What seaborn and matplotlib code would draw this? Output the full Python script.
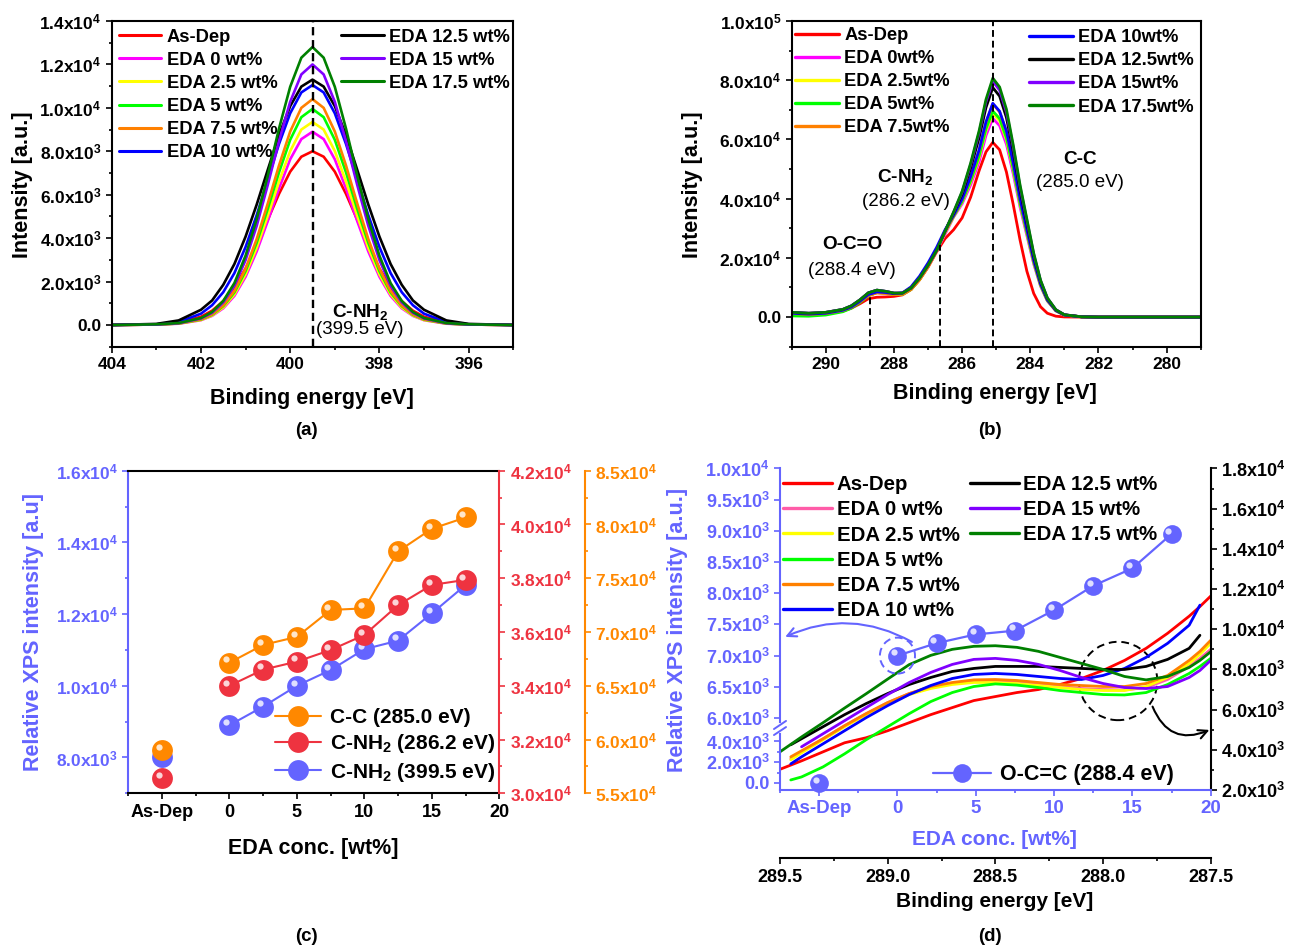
import matplotlib
matplotlib.use("Agg")
import matplotlib.pyplot as plt
import matplotlib.ticker as mticker
from matplotlib.lines import Line2D
from matplotlib.patches import Ellipse
from matplotlib.transforms import offset_copy
import numpy as np
import pandas as pd
import seaborn as sns

# ---------------- data ----------------
samples = ["As-Dep", "EDA 0 wt%", "EDA 2.5 wt%", "EDA 5 wt%", "EDA 7.5 wt%",
           "EDA 10 wt%", "EDA 12.5 wt%", "EDA 15 wt%", "EDA 17.5 wt%"]
samples_b = ["As-Dep", "EDA 0wt%", "EDA 2.5wt%", "EDA 5wt%", "EDA 7.5wt%",
             "EDA 10wt%", "EDA 12.5wt%", "EDA 15wt%", "EDA 17.5wt%"]

# (a) N 1s spectra
be_n1s = [404, 403, 402.5, 402, 401.75, 401.5, 401.25, 401, 400.75, 400.5, 400.25, 400, 399.75,
          399.5, 399.25, 399, 398.75, 398.5, 398.25, 398, 397.75, 397.5, 397.25, 397, 396.5,
          396, 395]
n1s_asdep = [0, 20, 100, 380, 660, 1100, 1730, 2600, 3660, 4860, 6040, 7060, 7750, 8000,
             7750, 7060, 6040, 4860, 3660, 2600, 1730, 1100, 660, 380, 100, 20, 0]
n1s_0 = [0, 20, 60, 220, 420, 770, 1340, 2220, 3390, 4800, 6290, 7630, 8560, 8900,
         8560, 7630, 6290, 4800, 3390, 2220, 1340, 770, 420, 220, 60, 20, 0]
n1s_25 = [0, 20, 70, 230, 440, 810, 1410, 2330, 3560, 5040, 6610, 8010, 9000, 9350,
          9000, 8010, 6610, 5040, 3560, 2330, 1410, 810, 440, 230, 70, 20, 0]
n1s_5 = [0, 20, 70, 250, 470, 870, 1500, 2480, 3790, 5360, 7030, 8530, 9570, 9950,
         9570, 8530, 7030, 5360, 3790, 2480, 1500, 870, 470, 250, 70, 20, 0]
n1s_75 = [0, 20, 70, 260, 490, 900, 1570, 2590, 3960, 5610, 7350, 8910, 10000, 10400,
          10000, 8910, 7350, 5610, 3960, 2590, 1570, 900, 490, 260, 70, 20, 0]
n1s_10 = [0, 30, 140, 520, 910, 1510, 2390, 3590, 5060, 6710, 8340, 9750, 10710, 11050,
          10710, 9750, 8340, 6710, 5060, 3590, 2390, 1510, 910, 520, 140, 30, 0]
n1s_125 = [0, 50, 210, 700, 1130, 1850, 2810, 4070, 5550, 7160, 8750, 10080, 10980, 11300,
           10980, 10080, 8750, 7160, 5550, 4070, 2810, 1850, 1130, 700, 210, 50, 0]
n1s_15 = [0, 20, 80, 300, 560, 1040, 1810, 2990, 4570, 6470, 8480, 10280, 11540, 12000,
          11540, 10280, 8480, 6470, 4570, 2990, 1810, 1040, 560, 300, 80, 20, 0]
n1s_175 = [0, 30, 90, 320, 600, 1110, 1930, 3190, 4880, 6900, 9050, 10970, 12310, 12800,
           12310, 10970, 9050, 6900, 4880, 3190, 1930, 1110, 600, 320, 90, 30, 0]

# (b) C 1s spectra
be_c1s = [291, 290.5, 290, 289.5, 289.25, 289, 288.75, 288.5, 288.25, 288, 287.75, 287.5,
          287.25, 287, 286.75, 286.5, 286.25, 286, 285.75, 285.5, 285.3, 285.1, 284.9, 284.7,
          284.5, 284.3, 284.1, 283.9, 283.7, 283.5, 283.25, 283, 282.5, 282, 281, 279]
c1s_asdep = [1000, 800, 1100, 2000, 3000, 4500, 6200, 6700, 6800, 7000, 7500, 9300, 12600, 16800,
             22000, 26500, 29500, 33500, 40500, 49500, 55800, 59000, 56500, 49000, 38000, 26000,
             15500, 8000, 3500, 1300, 300, 50, 0, 0, 0, 0]
c1s_0 = [1200, 900, 1200, 2200, 3300, 5100, 7300, 8200, 8000, 7600, 7700, 9300, 12600, 17000,
         22300, 28000, 33740, 38270, 44670, 52540, 61300, 67100, 64640, 58380, 48370, 37110,
         27520, 17930, 10430, 5420, 2090, 670, 80, 0, 0, 0]
c1s_25 = [1200, 900, 1200, 2200, 3300, 5100, 7300, 8200, 8000, 7600, 7700, 9300, 12600, 17000,
          22300, 28500, 33960, 38800, 45590, 53870, 62840, 68800, 66260, 59850, 49590, 38050,
          28220, 18380, 10690, 5560, 2140, 680, 90, 0, 0, 0]
c1s_5 = [400, 300, 700, 1800, 3000, 4900, 7200, 8300, 8100, 7600, 7700, 9300, 12700, 17200,
         22500, 28800, 34060, 39060, 46030, 54500, 63580, 69600, 67040, 60550, 50170, 38490,
         28550, 18600, 10810, 5620, 2160, 690, 90, 0, 0, 0]
c1s_75 = [1200, 900, 1200, 2200, 3300, 5100, 7300, 8200, 8000, 7600, 7700, 9300, 12600, 17000,
          22300, 28800, 34370, 39800, 47320, 56320, 65710, 72000, 69290, 62580, 51850, 39780,
          29500, 19220, 11180, 5810, 2240, 720, 90, 0, 0, 0]
c1s_10 = [1300, 1000, 1300, 2300, 3400, 5300, 7600, 8500, 8300, 7900, 8200, 10200, 13800, 18300,
          23500, 29500, 34400, 39870, 47450, 56510, 65930, 72200, 69520, 62790, 52030, 39920,
          29600, 19290, 11210, 5830, 2240, 720, 90, 0, 0, 0]
c1s_125 = [1600, 1300, 1600, 2600, 3800, 5800, 8200, 9100, 8700, 8100, 8100, 9800, 13200, 17500,
           22500, 29000, 35110, 41560, 50360, 60670, 70780, 77500, 74630, 67410, 55850, 42850,
           31780, 20700, 12040, 6260, 2410, 770, 100, 0, 0, 0]
c1s_15 = [1600, 1300, 1600, 2600, 3800, 5800, 8200, 9100, 8700, 8100, 8100, 9800, 13200, 17500,
          22500, 29000, 35380, 42220, 51510, 62310, 72690, 79600, 76650, 69230, 57360, 44010,
          32640, 21260, 12360, 6430, 2470, 790, 100, 0, 0, 0]
c1s_175 = [1600, 1300, 1600, 2600, 3800, 5800, 8200, 9100, 8700, 8100, 8100, 9800, 13200, 17500,
           22500, 29000, 35500, 42500, 52000, 63000, 73500, 80700, 77700, 70200, 58100, 44600,
           33100, 21600, 12500, 6500, 2500, 800, 100, 0, 0, 0]

# (c) relative peak intensities vs EDA concentration
eda_conc = [0, 2.5, 5, 7.5, 10, 12.5, 15, 17.5]
asdep_pos = -5
cc_285 = [67150, 68800, 69550, 72050, 72200, 77500, 79600, 80650]
cc_285_asdep = 59000
cnh2_286 = [34000, 34600, 34900, 35330, 35890, 37000, 37750, 37940]
cnh2_286_asdep = 30560
cnh2_399 = [8900, 9420, 10000, 10440, 11020, 11260, 12020, 12810]
cnh2_399_asdep = 8020

# (d) O-C=C intensity and zoomed C 1s spectra
occ_288 = [7000, 7200, 7340, 7400, 7730, 8120, 8400, 8950]
occ_288_asdep = 0
be_zoom = [289.5, 289.45, 289.4, 289.3, 289.2, 289.1, 289.0, 288.9, 288.8, 288.7, 288.6, 288.5,
           288.4, 288.3, 288.2, 288.1, 288.0, 287.9, 287.8, 287.7, 287.6, 287.55, 287.5]
nan = np.nan
zoom_asdep = [3030, 3240, 3450, 3900, 4350, 4600, 4950, 5350, 5750, 6100, 6450, 6650,
              6850, 7000, 7250, 7550, 7950, 8450, 9050, 9800, 10650, 11130, 11650]
zoom_0 = [nan, 3550, 3900, 4550, 5200, 5800, 6350, 6800, 7100, 7300, 7400, 7420,
          7380, 7280, 7150, 7050, 7000, 6980, 7100, 7500, 8150, 8550, 9000]
zoom_25 = [nan, 3500, 3850, 4500, 5150, 5750, 6300, 6750, 7050, 7250, 7350, 7350,
           7300, 7200, 7100, 7000, 6950, 6950, 7150, 7600, 8300, 8750, 9300]
zoom_5 = [nan, 2500, 2650, 3150, 3800, 4500, 5150, 5800, 6400, 6850, 7150, 7280,
          7220, 7100, 6950, 6850, 6750, 6730, 6850, 7250, 7800, 8150, 8550]
zoom_75 = [nan, 3650, 3950, 4550, 5200, 5800, 6350, 6800, 7150, 7350, 7480, 7500,
           7450, 7350, 7250, 7200, 7150, 7150, 7300, 7700, 8450, 8900, 9450]
zoom_10 = [nan, 3300, 3650, 4300, 4950, 5600, 6200, 6750, 7200, 7550, 7750, 7800,
           7750, 7650, 7550, 7500, 7700, 8050, 8600, 9300, 10200, 11200, nan]
zoom_125 = [nan, 4250, 4550, 5150, 5750, 6300, 6800, 7250, 7600, 7900, 8050, 8150,
            8150, 8150, 8100, 8050, 8000, 8000, 8150, 8500, 9050, 9700, nan]
zoom_15 = [nan, nan, 4150, 4800, 5450, 6100, 6750, 7350, 7850, 8250, 8500, 8550,
           8450, 8250, 7950, 7600, 7300, 7100, 7050, 7150, 7600, 7950, 8450]
zoom_175 = [3900, 4270, 4640, 5350, 6080, 6790, 7520, 8240, 8700, 9000, 9150, 9180,
            9100, 8900, 8600, 8300, 8000, 7650, 7480, 7650, 8100, 8450, 8880]

# ---------------- style ----------------
colors_ab = ["#FF0000", "#FF00FF", "#FFFF00", "#00FF00", "#FF8000",
             "#0000FF", "#000000", "#8000FF", "#008000"]
colors_d = ["#FF0000", "#FF5CA8", "#FFFF00", "#00FF00", "#FF8000",
            "#0000FF", "#000000", "#8000FF", "#008000"]
c_blue, c_red, c_orange = "#6464FF", "#EE3340", "#FF8800"

sns.set_theme(style="ticks")
plt.rcParams.update({
    "font.family": ["Liberation Sans", "DejaVu Sans"],
    "font.weight": "bold",
    "axes.labelweight": "bold",
    "mathtext.fontset": "custom",
    "mathtext.rm": "Liberation Sans:bold",
    "mathtext.it": "Liberation Sans:bold",
    "mathtext.bf": "Liberation Sans:bold",
    "mathtext.default": "rm",
    "axes.linewidth": 1.5,
    "axes.edgecolor": "black",
    "axes.labelcolor": "black",
    "text.color": "black",
    "xtick.color": "black",
    "ytick.color": "black",
})

W, H = 1290, 946
fig = plt.figure(figsize=(W / 100, H / 100), dpi=100)


def px_rect(left, top, right, bottom):
    return [left / W, 1 - bottom / H, (right - left) / W, (bottom - top) / H]


def sci_label(v, pos=None):
    if abs(v) < 1e-9:
        return "0.0"
    e = int(np.floor(np.log10(abs(v)) + 1e-9))
    return f"{v / 10 ** e:.1f}x10$^{{{e}}}$"


def tick_style(ax, axis, color="black", size=12.5):
    ax.tick_params(axis=axis, which="both", direction="out", colors=color,
                   labelsize=size, width=1.2)
    ax.tick_params(axis=axis, which="major", length=4)
    ax.tick_params(axis=axis, which="minor", length=2.3)


def long_frame(grid, series, names):
    wide = pd.DataFrame(dict(zip(names, series)))
    wide["BE"] = grid
    return wide.melt(id_vars="BE", var_name="Sample", value_name="Intensity").dropna()


def split_legends(ax, labels, colors, split, pos1, pos2, fs, hl, htp, ls, lw):
    handles = [Line2D([], [], color=c, lw=lw) for c in colors]
    kw = dict(loc="center left", frameon=False, fontsize=fs, handlelength=hl,
              handletextpad=htp, labelspacing=ls, borderpad=0, borderaxespad=0)
    leg = ax.legend(handles[:split], labels[:split], bbox_to_anchor=pos1, **kw)
    ax.add_artist(leg)
    ax.legend(handles[split:], labels[split:], bbox_to_anchor=pos2, **kw)


def shine(ax, x, y):
    tr = offset_copy(ax.transData, fig=fig, x=-2.3, y=2.3, units="points")
    ax.plot(x, y, "o", markersize=4.5, color="white", alpha=0.8,
            markeredgewidth=0, transform=tr, zorder=6, clip_on=False)


# ================= (a) =================
ax_a = fig.add_axes(px_rect(111.7, 21, 513.3, 346.7))
df_a = long_frame(be_n1s, [n1s_asdep, n1s_0, n1s_25, n1s_5, n1s_75, n1s_10,
                           n1s_125, n1s_15, n1s_175], samples)
sns.lineplot(data=df_a, x="BE", y="Intensity", hue="Sample", hue_order=samples,
             palette=colors_ab, estimator=None, linewidth=1.9, legend=False, ax=ax_a)
ax_a.axvline(399.5, color="black", ls=(0, (3.5, 2)), lw=1.7)
ax_a.set_xlim(404, 395)
ax_a.set_ylim(-1000, 14000)
ax_a.set_xticks([404, 402, 400, 398, 396])
ax_a.xaxis.set_minor_locator(mticker.MultipleLocator(1))
ax_a.set_yticks(range(0, 14001, 2000))
ax_a.yaxis.set_minor_locator(mticker.MultipleLocator(1000))
ax_a.yaxis.set_major_formatter(mticker.FuncFormatter(sci_label))
tick_style(ax_a, "both")
ax_a.set_xlabel("Binding energy [eV]", fontsize=15.5, va="center")
ax_a.xaxis.set_label_coords(0.498, -0.158)
ax_a.set_ylabel("Intensity [a.u.]", fontsize=15.5, va="center")
ax_a.yaxis.set_label_coords(-0.223, 0.496)
ax_a.text(398.43, 613, "C-NH$_2$", ha="center", va="center", fontsize=13.7)
ax_a.text(398.43, -230, "(399.5 eV)", ha="center", va="center", fontsize=13.5,
          fontweight="normal")
split_legends(ax_a, samples, colors_ab, 6, (0.018, 0.773), (0.572, 0.880),
              13.2, 2.3, 0.3, 0.33, 2.2)

# ================= (b) =================
ax_b = fig.add_axes(px_rect(791.7, 21, 1200.7, 346.7))
df_b = long_frame(be_c1s, [c1s_asdep, c1s_0, c1s_25, c1s_5, c1s_75, c1s_10,
                           c1s_125, c1s_15, c1s_175], samples_b)
sns.lineplot(data=df_b, x="BE", y="Intensity", hue="Sample", hue_order=samples_b,
             palette=colors_ab, estimator=None, linewidth=2.0, legend=False, ax=ax_b)
for be_line, top in [(288.7, 7000), (286.65, 24500), (285.1, 100000)]:
    ax_b.vlines(be_line, -10000, top, colors="black", linestyles=(0, (3.5, 2)), lw=1.4)
ax_b.set_xlim(291, 279)
ax_b.set_ylim(-10000, 100000)
ax_b.set_xticks([290, 288, 286, 284, 282, 280])
ax_b.xaxis.set_minor_locator(mticker.MultipleLocator(1))
ax_b.set_yticks(range(0, 100001, 20000))
ax_b.yaxis.set_minor_locator(mticker.MultipleLocator(10000))
ax_b.yaxis.set_major_formatter(mticker.FuncFormatter(sci_label))
tick_style(ax_b, "both")
ax_b.set_xlabel("Binding energy [eV]", fontsize=15.5, va="center")
ax_b.xaxis.set_label_coords(0.497, -0.143)
ax_b.set_ylabel("Intensity [a.u.]", fontsize=15.5, va="center")
ax_b.yaxis.set_label_coords(-0.243, 0.496)
for x, y1, y2, name, ev in [(289.22, 24360, 15900, "O-C=O", "(288.4 eV)"),
                            (287.66, 47430, 38990, "C-NH$_2$", "(286.2 eV)"),
                            (282.53, 53070, 45300, "C-C", "(285.0 eV)")]:
    ax_b.text(x, y1, name, ha="center", va="center", fontsize=13.7)
    ax_b.text(x, y2, ev, ha="center", va="center", fontsize=13.5, fontweight="normal")
split_legends(ax_b, samples_b, colors_ab, 5, (0.009, 0.814), (0.581, 0.842),
              13.2, 2.4, 0.26, 0.33, 2.4)

# ================= (c) =================
ax_c = fig.add_axes(px_rect(128.3, 470.7, 499.3, 793.3))
ax_cr = ax_c.twinx()
ax_co = ax_c.twinx()
ball = dict(marker="o", markersize=15, markeredgewidth=0, linewidth=1.5)
for ax, vals, asdep, col in [(ax_c, cnh2_399, cnh2_399_asdep, c_blue),
                             (ax_cr, cnh2_286, cnh2_286_asdep, c_red),
                             (ax_co, cc_285, cc_285_asdep, c_orange)]:
    sns.lineplot(x=eda_conc, y=vals, color=col, ax=ax, **ball)
    sns.scatterplot(x=[asdep_pos], y=[asdep], color=col, s=15 ** 2, linewidth=0, ax=ax)
    shine(ax, eda_conc + [asdep_pos], vals + [asdep])
ax_c.set_xlim(-7.5, 20)
ax_c.set_ylim(7000, 16000)
ax_cr.set_ylim(30000, 42000)
ax_co.set_ylim(55000, 85000)
ax_co.spines["right"].set_position(("axes", 1 + 85.7 / 371))
ax_c.set_xticks([-5, 0, 5, 10, 15, 20])
ax_c.set_xticklabels(["As-Dep", "0", "5", "10", "15", "20"])
ax_c.xaxis.set_minor_locator(mticker.MultipleLocator(2.5))
ax_c.set_yticks(range(8000, 16001, 2000))
ax_c.yaxis.set_minor_locator(mticker.MultipleLocator(1000))
ax_cr.set_yticks(range(30000, 42001, 2000))
ax_cr.yaxis.set_minor_locator(mticker.MultipleLocator(1000))
ax_co.set_yticks(range(55000, 85001, 5000))
ax_co.yaxis.set_minor_locator(mticker.MultipleLocator(2500))
for ax in (ax_c, ax_cr, ax_co):
    ax.yaxis.set_major_formatter(mticker.FuncFormatter(sci_label))
    ax.set_ylabel("")
ax_c.spines["left"].set_color(c_blue)
ax_c.spines["right"].set_visible(False)
for ax, col in [(ax_cr, c_red), (ax_co, c_orange)]:
    for s in ("left", "top", "bottom"):
        ax.spines[s].set_visible(False)
    ax.spines["right"].set_color(col)
    tick_style(ax, "y", col, 12.5)
tick_style(ax_c, "x", "black", 13)
tick_style(ax_c, "y", c_blue, 12.5)
ax_c.set_xlabel("EDA conc. [wt%]", fontsize=15.5, va="center")
ax_c.xaxis.set_label_coords(0.499, -0.170)
ax_c.set_ylabel("Relative XPS intensity [a.u]", fontsize=15.5, va="center", color=c_blue)
ax_c.yaxis.set_label_coords(-0.255, 0.501)
leg_handles = [Line2D([], [], color=c, **ball) for c in (c_orange, c_red, c_blue)]
ax_co.legend(leg_handles, ["C-C (285.0 eV)", "C-NH$_2$ (286.2 eV)", "C-NH$_2$ (399.5 eV)"],
             loc="center left", bbox_to_anchor=(0.395, 0.147), frameon=False,
             fontsize=15, handlelength=2.2, handletextpad=0.45, labelspacing=0.25,
             borderpad=0, borderaxespad=0, numpoints=1)

# ================= (d) =================
ax_d = fig.add_axes(px_rect(780, 468.5, 1210.7, 790))
df_d = long_frame(be_zoom, [zoom_asdep, zoom_0, zoom_25, zoom_5, zoom_75, zoom_10,
                            zoom_125, zoom_15, zoom_175], samples)
sns.lineplot(data=df_d, x="BE", y="Intensity", hue="Sample", hue_order=samples,
             palette=colors_d, estimator=None, linewidth=2.0, legend=False, ax=ax_d)
ax_d.set_xlim(289.5, 287.5)
ax_d.set_ylim(2000, 18000)
ax_d.yaxis.tick_right()
ax_d.set_yticks(range(2000, 18001, 2000))
ax_d.yaxis.set_minor_locator(mticker.MultipleLocator(1000))
ax_d.yaxis.set_major_formatter(mticker.FuncFormatter(sci_label))
ax_d.xaxis.set_major_locator(mticker.MultipleLocator(0.5))
ax_d.xaxis.set_minor_locator(mticker.MultipleLocator(0.25))
ax_d.xaxis.set_major_formatter(mticker.FormatStrFormatter("%.1f"))
for s in ("left", "top"):
    ax_d.spines[s].set_visible(False)
ax_d.spines["bottom"].set_position(("outward", 68.3 * 72 / 100))
tick_style(ax_d, "both", "black", 13)
ax_d.set_ylabel("")
ax_d.set_xlabel("Binding energy [eV]", fontsize=15, va="center")
ax_d.xaxis.set_label_coords(0.499, -0.347)
ax_d.add_patch(Ellipse((287.93, 7425), 0.364, 3900, fill=False, ec="black",
                       ls=(0, (4, 2.5)), lw=1.4))
ax_d.annotate("", xy=(287.506, 4990), xytext=(287.77, 6150),
              arrowprops=dict(arrowstyle="->", color="black", lw=1.5, shrinkA=0, shrinkB=0,
                              mutation_scale=16, connectionstyle="arc3,rad=0.5"))
split_legends(ax_d, samples, colors_d, 6, (0.007, 0.754), (0.441, 0.873),
              14.7, 2.4, 0.22, 0.3, 2.4)

# EDA concentration axes on top (left, broken y-axis)
ax_e = fig.add_axes(px_rect(780, 468.5, 1210.7, 790))
ax_e.patch.set_visible(False)
sns.lineplot(x=eda_conc, y=occ_288, color=c_blue, ax=ax_e, marker="o", markersize=13.5,
             markeredgewidth=0, linewidth=1.6)
sns.scatterplot(x=[asdep_pos], y=[occ_288_asdep], color=c_blue, s=13.5 ** 2,
                linewidth=0, ax=ax_e, clip_on=False)
shine(ax_e, eda_conc + [asdep_pos], occ_288 + [occ_288_asdep])

brk_val = [-2000, 0, 4000, 6000, 10000, 12000]
brk_pos = [-13.75, 7, 48.5, 72, 321.5, 446.3]
ax_e.set_yscale("function", functions=(lambda v: np.interp(v, brk_val, brk_pos),
                                       lambda u: np.interp(u, brk_pos, brk_val)))
ax_e.set_xlim(-7.5, 20)
ax_e.set_ylim(-675, 10000)
ax_e.yaxis.set_major_locator(mticker.FixedLocator(
    [0, 2000, 4000, 6000, 6500, 7000, 7500, 8000, 8500, 9000, 9500, 10000]))
ax_e.yaxis.set_minor_locator(mticker.FixedLocator([1000, 3000]))
ax_e.yaxis.set_major_formatter(mticker.FuncFormatter(sci_label))
ax_e.set_xticks([-5, 0, 5, 10, 15, 20])
ax_e.set_xticklabels(["As-Dep", "0", "5", "10", "15", "20"])
ax_e.xaxis.set_minor_locator(mticker.MultipleLocator(2.5))
for s in ("top", "right"):
    ax_e.spines[s].set_visible(False)
for s in ("left", "bottom"):
    ax_e.spines[s].set_color(c_blue)
tick_style(ax_e, "x", c_blue, 13.5)
tick_style(ax_e, "y", c_blue, 13)
ax_e.set_xlabel("EDA conc. [wt%]", fontsize=15, va="center", color=c_blue)
ax_e.xaxis.set_label_coords(0.499, -0.153)
ax_e.set_ylabel("Relative XPS intensity [a.u.]", fontsize=15.5, va="center", color=c_blue)
ax_e.yaxis.set_label_coords(-0.239, 0.498)

# axis break marks
brk_tr = ax_e.get_yaxis_transform()
ax_e.plot([0, 0], [4900, 5400], color="white", lw=3, transform=brk_tr, clip_on=False, zorder=7)
for y0, y1 in [(4550, 5230), (5060, 5750)]:
    ax_e.plot([-0.014, 0.014], [y0, y1], color=c_blue, lw=1.4, transform=brk_tr,
              clip_on=False, zorder=8)

ax_e.add_patch(Ellipse((0, 7000), 2.24, 577, fill=False, ec=c_blue, ls=(0, (4, 2.5)), lw=1.4))
ax_e.annotate("", xy=(-7.17, 7300), xytext=(0.92, 7220),
              arrowprops=dict(arrowstyle="->", color=c_blue, lw=1.5, shrinkA=0, shrinkB=0,
                              mutation_scale=16, connectionstyle="arc3,rad=0.25"))
ax_e.legend([Line2D([], [], color=c_blue, marker="o", markersize=13.5, markeredgewidth=0,
                    linewidth=1.6)], ["O-C=C (288.4 eV)"], loc="center left",
            bbox_to_anchor=(0.355, 0.047), frameon=False, fontsize=15.5, handlelength=2.7,
            handletextpad=0.4, borderpad=0, borderaxespad=0, numpoints=1)

# panel letters
for x, y, lab in [(306.7, 430, "(a)"), (990, 430, "(b)"), (306.7, 936.7, "(c)"), (990, 936.7, "(d)")]:
    fig.text(x / W, 1 - y / H, lab, ha="center", va="center", fontsize=13.5)

fig.savefig("out.png", dpi=100)
